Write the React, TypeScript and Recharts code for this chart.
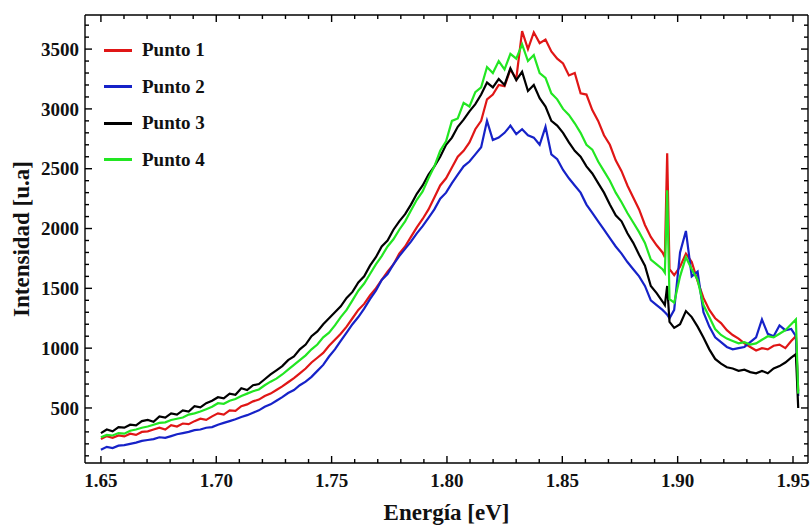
import React from 'react';
import { LineChart, Line, XAxis, YAxis, Legend, Label } from 'recharts';

const energies = [
  1.65, 1.65254, 1.65507, 1.65761, 1.66014, 1.66268, 1.66522, 1.66775, 1.67029, 1.67282,
  1.67536, 1.67789, 1.68043, 1.68296, 1.6855, 1.68804, 1.69057, 1.69311, 1.69564, 1.69818,
  1.70072, 1.70325, 1.70579, 1.70832, 1.71086, 1.71339, 1.71593, 1.71846, 1.721, 1.72354,
  1.72607, 1.72861, 1.73114, 1.73368, 1.73621, 1.73875, 1.74129, 1.74382, 1.74636, 1.74889,
  1.75143, 1.75396, 1.7565, 1.75904, 1.76157, 1.76411, 1.76664, 1.76918, 1.77172, 1.77425,
  1.77679, 1.77932, 1.78186, 1.78439, 1.78693, 1.78946, 1.792, 1.79454, 1.79707, 1.79961,
  1.80215, 1.80468, 1.80722, 1.80975, 1.81229, 1.81482, 1.81736, 1.81989, 1.82243, 1.82496,
  1.8275, 1.83004, 1.83257, 1.83511, 1.83764, 1.84018, 1.84272, 1.84525, 1.84779, 1.85032,
  1.85286, 1.85539, 1.85793, 1.86047, 1.863, 1.86554, 1.86807, 1.87061, 1.87315, 1.87568,
  1.87822, 1.88075, 1.88329, 1.88582, 1.88836, 1.89089, 1.89343, 1.89445, 1.89546, 1.89647,
  1.8985, 1.90104, 1.90358, 1.90611, 1.90865, 1.91118, 1.91372, 1.91625, 1.91879, 1.92132,
  1.92386, 1.9264, 1.92893, 1.93147, 1.934, 1.93654, 1.93907, 1.94161, 1.94415, 1.94668,
  1.94922, 1.95125, 1.95226,
];

const punto1 = [
  240, 265, 250, 270, 262, 285, 275, 300, 305, 320,
  335, 320, 357, 345, 370, 365, 390, 410, 400, 430,
  455, 445, 480, 475, 515, 530, 555, 570, 600, 620,
  650, 680, 715, 750, 790, 830, 880, 920, 960, 1020,
  1070, 1120, 1180, 1250, 1320, 1370, 1440, 1500, 1570, 1640,
  1700, 1790, 1850, 1930, 2010, 2080, 2160, 2260, 2360, 2420,
  2510, 2600, 2650, 2720, 2830, 2900, 3080, 3120, 3200, 3190,
  3330, 3250, 3650, 3500, 3640, 3550, 3580, 3480, 3420, 3380,
  3280, 3300, 3130, 3120, 2990, 2900, 2780, 2700, 2570, 2480,
  2360, 2260, 2160, 2030, 1930, 1860, 1800, 1760, 2630, 1660,
  1610, 1680, 1790, 1720, 1560, 1420, 1320, 1250, 1210, 1150,
  1110, 1080, 1040, 1010, 980, 1000, 990, 1020, 1030, 1000,
  1060, 1100, 640,
];

const punto2 = [
  150, 175, 165, 185, 190, 200, 210, 225, 232, 240,
  255, 250, 265, 280, 290, 300, 315, 320, 335, 340,
  360, 375, 390, 405, 425, 440, 460, 480, 510, 530,
  560, 590, 625, 650, 690, 720, 760, 810, 860, 930,
  990, 1060, 1130, 1200, 1260, 1330, 1410, 1480, 1570, 1620,
  1700, 1770, 1830, 1890, 1960, 2020, 2090, 2160, 2250, 2300,
  2380, 2450, 2520, 2560, 2620, 2680, 2900, 2740, 2760, 2800,
  2860, 2790, 2830, 2780, 2760, 2700, 2850, 2620, 2580, 2490,
  2420, 2360, 2300, 2200, 2130, 2060, 1990, 1920, 1850, 1790,
  1720, 1660, 1600, 1520, 1400, 1360, 1320, 1300, 1280, 1250,
  1320, 1800, 1980, 1600, 1640, 1300, 1180, 1090, 1050, 1010,
  990, 1000, 1010, 1050, 1090, 1240, 1120, 1100, 1190, 1150,
  1160, 1100, 600,
];

const punto3 = [
  290, 320, 305, 340, 335, 360, 355, 390, 400, 385,
  430, 420, 455, 445, 480, 470, 515, 505, 540, 560,
  590, 580, 620, 610, 665, 650, 690, 700, 740, 780,
  815, 850, 900, 930, 990, 1030, 1100, 1140, 1200, 1250,
  1300, 1350, 1420, 1470, 1550, 1600, 1690, 1760, 1850, 1900,
  1990, 2060, 2120, 2200, 2290, 2360, 2450, 2520, 2600, 2700,
  2760, 2850, 2910, 2980, 3040, 3120, 3220, 3180, 3250, 3200,
  3340, 3240, 3310, 3150, 3200, 3090, 3020, 2900, 2860, 2800,
  2720, 2650, 2600, 2520, 2460, 2380, 2300, 2200, 2110, 2060,
  1960, 1880, 1780, 1690, 1520, 1460, 1390, 1360, 1520, 1220,
  1170, 1200, 1310, 1260, 1180, 1090, 990, 910, 870, 840,
  830, 810, 820, 800, 790, 810, 790, 830, 850, 880,
  920, 950, 500,
];

const punto4 = [
  255, 275, 270, 290, 285, 310, 320, 335, 345, 360,
  375, 380, 400, 410, 420, 445, 455, 470, 490, 510,
  540, 535, 560, 575, 600, 620, 640, 655, 690, 720,
  745, 780, 820, 860, 900, 940, 990, 1030, 1090, 1130,
  1190, 1260, 1320, 1400, 1480, 1540, 1620, 1700, 1770, 1850,
  1910, 1990, 2060, 2150, 2240, 2310, 2420, 2520, 2650, 2730,
  2900, 2920, 3050, 3020, 3140, 3180, 3350, 3300, 3400, 3330,
  3460, 3420, 3540, 3400, 3450, 3300, 3260, 3130, 3080, 3000,
  2950, 2880, 2800, 2700, 2660, 2560, 2480, 2400, 2300, 2220,
  2130, 2050, 1970, 1880, 1740, 1700, 1660, 1630, 2320, 1410,
  1380, 1600, 1760, 1660, 1570, 1360, 1260, 1160, 1110, 1080,
  1060, 1040, 1050, 1030, 1040, 1070, 1100, 1090, 1120, 1150,
  1200, 1240, 620,
];

const seriesNames = ['Punto 1', 'Punto 2', 'Punto 3', 'Punto 4'];
const seriesColors = ['#e01616', '#1622c8', '#000000', '#22e622'];

const xMajorTicks = [1.65, 1.7, 1.75, 1.8, 1.85, 1.9, 1.95];
const xTicks = [
  1.65, 1.66, 1.67, 1.68, 1.69, 1.7, 1.71, 1.72, 1.73, 1.74, 1.75, 1.76, 1.77, 1.78, 1.79,
  1.8, 1.81, 1.82, 1.83, 1.84, 1.85, 1.86, 1.87, 1.88, 1.89, 1.9, 1.91, 1.92, 1.93, 1.94, 1.95,
];
const yMajorTicks = [500, 1000, 1500, 2000, 2500, 3000, 3500];
const yTicks = [
  100, 200, 300, 400, 500, 600, 700, 800, 900, 1000, 1100, 1200, 1300, 1400, 1500, 1600, 1700,
  1800, 1900, 2000, 2100, 2200, 2300, 2400, 2500, 2600, 2700, 2800, 2900, 3000, 3100, 3200, 3300,
  3400, 3500, 3600, 3700,
];
const xDomain = [1.6431, 1.9565];
const yDomain = [40, 3785];

const data = energies.map((e, i) => ({
  e,
  p1: punto1[i],
  p2: punto2[i],
  p3: punto3[i],
  p4: punto4[i],
}));

const FONT = "'Liberation Serif', 'Times New Roman', serif";

const isMajor = (v: number, list: number[]) => list.some((m) => Math.abs(m - v) < 1e-9);

function makeTick(side: 'bottom' | 'top' | 'left' | 'right', majors: number[], fmt?: (v: number) => string) {
  return (props: any) => {
    const { x, y, payload } = props;
    const v = payload.value as number;
    const major = isMajor(v, majors);
    const len = major ? 7 : 4;
    let x2 = x;
    let y2 = y;
    if (side === 'bottom') y2 = y - len;
    else if (side === 'top') y2 = y + len;
    else if (side === 'left') x2 = x + len;
    else x2 = x - len;
    return (
      <g>
        <line x1={x} y1={y} x2={x2} y2={y2} stroke="#000" strokeWidth={1.4} />
        {major && fmt && side === 'bottom' && (
          <text x={x} y={y + 24} textAnchor="middle" fontFamily={FONT} fontWeight="bold" fontSize={19} fill="#111">
            {fmt(v)}
          </text>
        )}
        {major && fmt && side === 'left' && (
          <text x={x - 6} y={y} dy="0.35em" textAnchor="end" fontFamily={FONT} fontWeight="bold" fontSize={19} fill="#111">
            {fmt(v)}
          </text>
        )}
      </g>
    );
  };
}

const renderLegend = (props: any) => {
  const payload = (props.payload || []).filter((p: any) => p.type !== 'none');
  return (
    <div style={{ fontFamily: FONT, fontWeight: 'bold', fontSize: 19, color: '#111' }}>
      {payload.map((p: any) => (
        <div key={p.value} style={{ display: 'flex', alignItems: 'center', height: 36.5 }}>
          <span style={{ display: 'inline-block', width: 28, height: 3, background: p.color, marginRight: 10 }} />
          <span>{p.value}</span>
        </div>
      ))}
    </div>
  );
};

export default function App() {
  const keys = ['p1', 'p2', 'p3', 'p4'];
  return (
    <div style={{ position: 'absolute', left: 0, top: 0, width: 811, height: 525, background: '#fff' }}>
      <LineChart width={811} height={525} data={data} margin={{ top: 0, right: 0, bottom: 0, left: 0 }}>
        <XAxis
          dataKey="e"
          type="number"
          domain={xDomain}
          allowDataOverflow
          ticks={xTicks}
          interval={0}
          height={62}
          tickSize={0}
          tickMargin={0}
          tickLine={false}
          axisLine={{ stroke: '#000', strokeWidth: 1.4 }}
          tick={makeTick('bottom', xMajorTicks, (v) => v.toFixed(2))}
        >
          <Label
            value="Energía [eV]"
            position="insideBottom"
            offset={5}
            style={{ fontFamily: FONT, fontWeight: 'bold', fontSize: 23, fill: '#111' }}
          />
        </XAxis>
        <XAxis
          xAxisId="top"
          dataKey="e"
          orientation="top"
          type="number"
          domain={xDomain}
          allowDataOverflow
          ticks={xTicks}
          interval={0}
          height={15}
          tickSize={0}
          tickMargin={0}
          tickLine={false}
          axisLine={{ stroke: '#000', strokeWidth: 1.4 }}
          tick={makeTick('top', xMajorTicks)}
        />
        <YAxis
          type="number"
          domain={yDomain}
          allowDataOverflow
          ticks={yTicks}
          interval={0}
          width={85}
          tickSize={0}
          tickMargin={0}
          tickLine={false}
          axisLine={{ stroke: '#000', strokeWidth: 1.4 }}
          tick={makeTick('left', yMajorTicks, (v) => String(v))}
        >
          <Label
            value="Intensidad [u.a]"
            angle={-90}
            position="insideLeft"
            offset={21}
            style={{ fontFamily: FONT, fontWeight: 'bold', fontSize: 23, fill: '#111', textAnchor: 'middle' }}
          />
        </YAxis>
        <YAxis
          yAxisId="right"
          orientation="right"
          type="number"
          domain={yDomain}
          allowDataOverflow
          ticks={yTicks}
          interval={0}
          width={3}
          tickSize={0}
          tickMargin={0}
          tickLine={false}
          axisLine={{ stroke: '#000', strokeWidth: 1.4 }}
          tick={makeTick('right', yMajorTicks)}
        />
        <Legend
          layout="vertical"
          align="center"
          verticalAlign="middle"
          content={renderLegend}
          wrapperStyle={{ left: 104, top: 32, width: 'auto' }}
        />
        <Line
          xAxisId="top"
          yAxisId="right"
          dataKey="p1"
          stroke="none"
          strokeWidth={0}
          legendType="none"
          dot={false}
          activeDot={false}
          isAnimationActive={false}
        />
        {keys.map((k, i) => (
          <Line
            key={k}
            dataKey={k}
            name={seriesNames[i]}
            stroke={seriesColors[i]}
            strokeWidth={2.2}
            dot={false}
            activeDot={false}
            isAnimationActive={false}
            type="linear"
          />
        ))}
      </LineChart>
    </div>
  );
}
